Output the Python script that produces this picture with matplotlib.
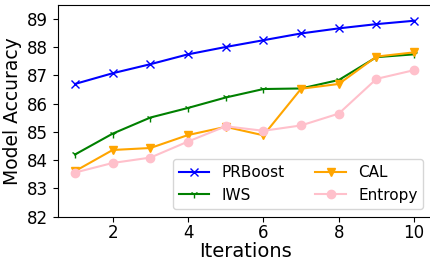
import matplotlib
matplotlib.use("Agg")
import matplotlib.pyplot as plt

iterations = [1, 2, 3, 4, 5, 6, 7, 8, 9, 10]
prboost = [86.70, 87.08, 87.40, 87.75, 88.01, 88.25, 88.49, 88.67, 88.82, 88.94]
iws = [84.20, 84.94, 85.51, 85.85, 86.22, 86.52, 86.54, 86.84, 87.65, 87.75]
cal = [83.61, 84.36, 84.43, 84.89, 85.18, 84.88, 86.53, 86.70, 87.67, 87.82]
entropy = [83.56, 83.90, 84.09, 84.66, 85.20, 85.04, 85.23, 85.65, 86.88, 87.19]
yticks = [82, 83, 84, 85, 86, 87, 88, 89]
xticks = [2, 4, 6, 8, 10]

fig = plt.figure(figsize=(4.3, 2.6), dpi=100)
ax = fig.add_axes([0.135, 0.167, 0.872, 0.814])
ax.plot(iterations, prboost, color="blue", marker="x", markersize=6, label="PRBoost")
ax.plot(iterations, iws, color="green", marker="1", markersize=6, label="IWS")
ax.plot(iterations, cal, color="orange", marker="v", markersize=6, label="CAL")
ax.plot(iterations, entropy, color="pink", marker="o", markersize=6, label="Entropy")
ax.set_xlim(0.55, 10.5)
ax.set_ylim(82, 89.5)
ax.set_yticks(yticks)
ax.set_xticks(xticks)
ax.tick_params(labelsize=12)
ax.tick_params(axis="x", pad=2)
ax.set_xlabel("Iterations", fontsize=14, labelpad=0)
ax.set_ylabel("Model Accuracy", fontsize=13.5)
ax.legend(ncol=2, loc="lower right", fontsize=11, bbox_to_anchor=(0.995, 0.0))
fig.savefig("out.png", dpi=100)
